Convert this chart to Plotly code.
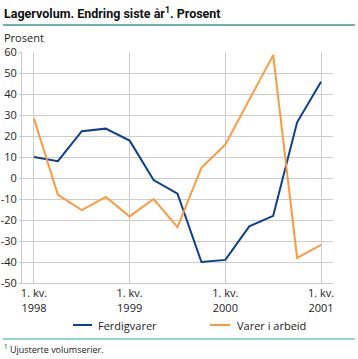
import plotly.graph_objects as go

quarters = list(range(13))
x_tick_vals = [0, 4, 8, 12]
x_tick_text = ["1. kv.<br>1998", "1. kv.<br>1999", "1. kv.<br>2000", "1. kv.<br>2001"]
y_tick_vals = [60, 50, 40, 30, 20, 10, 0, -10, -20, -30, -40, -50]
y_tick_text = ["60", "50", "40", "30", "20", "10", "0", "-10", "-20", "-30", "-40", "-50"]
series_names = ["Ferdigvarer", "Varer i arbeid"]
ferdigvarer = [10, 8, 22.3, 23.5, 17.8, -1, -7.5, -40, -39, -23, -18, 26.5, 45.8]
varer_i_arbeid = [28.3, -8, -15.3, -9, -18.3, -10, -23.4, 4.9, 16, 37.5, 58.5, -38, -31.8]
colors = ["#0b3f93", "#ff9a3c"]

font = "Open Sans"
W, H = 358, 359
L, R, T, B = 22, 25, 52, 76
pw, ph = W - L - R, H - T - B
def px(x):
    return (x - L) / pw
def py(y):
    return (H - B - y) / ph

fig = go.Figure()
for name, vals, c in zip(series_names, [ferdigvarer, varer_i_arbeid], colors):
    fig.add_trace(go.Scatter(x=quarters, y=vals, mode="lines", name=name,
                             line=dict(color=c, width=2), hoverinfo="skip"))

annotations = [
    dict(text="<b>Lagervolum. Endring siste år<sup>1</sup>. Prosent</b>", x=px(2), y=py(13),
         font=dict(size=12.5, color="#111", family="Roboto")),
    dict(text="Prosent", x=px(2), y=py(37), font=dict(size=11, color="#222")),
    dict(text="<sup>1</sup> Ujusterte volumserier.", x=px(2), y=py(349),
         font=dict(size=9, color="#222")),
]
shapes = [
    dict(type="line", x0=px(3), x1=px(355), y0=py(25), y1=py(25), line=dict(color="#3a9a9a", width=1.5)),
    dict(type="line", x0=px(3), x1=px(355), y0=py(339), y1=py(339), line=dict(color="#66c8c8", width=1.5)),
]
# manual legend
leg = [(73, 92, 96), (210, 230, 235)]
for (x0, x1, tx), name, c in zip(leg, series_names, colors):
    shapes.append(dict(type="line", x0=px(x0), x1=px(x1), y0=py(325), y1=py(325),
                       line=dict(color=c, width=2)))
    annotations.append(dict(text=name, x=px(tx), y=py(325), font=dict(size=11, color="#222")))
for a in annotations:
    a.update(xref="paper", yref="paper", showarrow=False, xanchor="left", yanchor="middle")
for s in shapes:
    s.update(xref="paper", yref="paper")

fig.update_layout(
    width=W, height=H,
    margin=dict(l=L, r=R, t=T, b=B, autoexpand=False),
    paper_bgcolor="white", plot_bgcolor="white",
    font=dict(family=font, size=11, color="#222"),
    showlegend=False,
    hovermode=False,
    xaxis=dict(range=[-0.5, 12.5], tickvals=x_tick_vals, ticktext=x_tick_text, automargin=False,
               showgrid=True, gridcolor="#cccccc", gridwidth=1, zeroline=False,
               showline=True, linecolor="#c8c8c8", linewidth=1, ticks="", ticklen=0,
               tickfont=dict(size=11)),
    yaxis=dict(range=[-50, 60], tickvals=y_tick_vals, ticktext=y_tick_text,
               showgrid=True, gridcolor="#cccccc", gridwidth=1,
               automargin=False,
               zeroline=False, showline=True, linecolor="#c8c8c8", linewidth=1,
               ticks="outside", ticklen=2, tickcolor="#c8c8c8", tickfont=dict(size=11)),
    annotations=annotations,
    shapes=shapes,
)
fig.write_html("out.html", config={"displayModeBar": False, "staticPlot": True},
               post_script="document.body.style.margin='0';")
